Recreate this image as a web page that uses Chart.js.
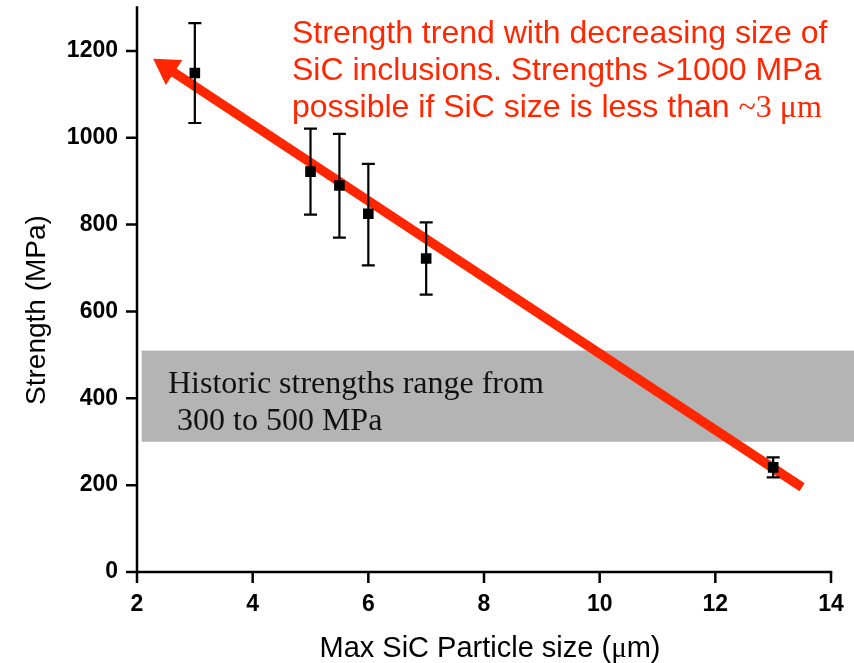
<!DOCTYPE html>
<html>
<head>
<meta charset="utf-8">
<script src="https://cdn.jsdelivr.net/npm/chart.js@4.4.1/dist/chart.umd.min.js"></script>
<style>
    html, body { margin: 0; padding: 0; background: #fff; }
    #myChart { display: block; }
</style>
</head>
<body>
<canvas id="myChart" width="854" height="663"></canvas>
<script>
'use strict'

// values
var particleSize = [3, 5, 5.5, 6, 7, 13];
var strength = [1149, 922, 890, 825, 722, 241];
var errLow = [1034, 823, 770, 706, 639, 218];
var errHigh = [1264, 1021, 1009, 940, 805, 264];

// red trend arrow: tail -> tip
var trendX = [13.5, 2.28];
var trendY = [195, 1182];

// grey band of historic strengths
var bandX = [2.08, 14.4];
var bandY = [300, 510];

var xTicks = [2, 4, 6, 8, 10, 12, 14];
var yTicks = [0, 200, 400, 600, 800, 1000, 1200];

var noteLines = [
    "Strength trend with decreasing size of",
    "SiC inclusions. Strengths >1000 MPa",
    "possible if SiC size is less than "
];
var noteTail = "~3 \u03bcm";
var bandLines = ["Historic strengths range from", " 300 to 500 MPa"];

(function () {

    var RED = "rgb(255,38,0)";
    var SANS = "'Liberation Sans', Arial, sans-serif";
    var SERIF = "'Liberation Serif', 'Times New Roman', serif";

    var points = particleSize.map(function (v, i) {
        return { x: v, y: strength[i] };
    });

    var decor = {
        id: 'decor',
        beforeDatasetsDraw: function (chart) {
            var ctx = chart.ctx;
            var sx = chart.scales.x;
            var sy = chart.scales.y;
            ctx.save();

            // band
            var bx0 = sx.getPixelForValue(bandX[0]);
            var bx1 = sx.getPixelForValue(bandX[1]);
            var by0 = sy.getPixelForValue(bandY[1]);
            var by1 = sy.getPixelForValue(bandY[0]);
            ctx.fillStyle = "#b4b4b4";
            ctx.fillRect(bx0, by0, bx1 - bx0, by1 - by0);

            ctx.fillStyle = "#111";
            ctx.font = "32px " + SERIF;
            ctx.textBaseline = "alphabetic";
            ctx.textAlign = "left";
            ctx.fillText(bandLines[0], 168, 393);
            ctx.fillText(bandLines[1], 169, 430);

            // arrow
            var tx = sx.getPixelForValue(trendX[0]);
            var ty = sy.getPixelForValue(trendY[0]);
            var px = sx.getPixelForValue(trendX[1]);
            var py = sy.getPixelForValue(trendY[1]);
            var len = Math.sqrt((px - tx) * (px - tx) + (py - ty) * (py - ty));
            var ux = (px - tx) / len;
            var uy = (py - ty) / len;
            var headLen = 25;
            var headHalf = 15;
            var bx = px - ux * headLen;
            var by = py - uy * headLen;
            ctx.strokeStyle = RED;
            ctx.lineWidth = 9.5;
            ctx.lineCap = "butt";
            ctx.beginPath();
            ctx.moveTo(tx, ty);
            ctx.lineTo(bx + ux * 3, by + uy * 3);
            ctx.stroke();
            ctx.fillStyle = RED;
            ctx.beginPath();
            ctx.moveTo(px, py);
            ctx.lineTo(bx - uy * headHalf, by + ux * headHalf);
            ctx.lineTo(bx + uy * headHalf, by - ux * headHalf);
            ctx.closePath();
            ctx.fill();

            // error bars
            ctx.strokeStyle = "#000";
            ctx.lineWidth = 2.2;
            for (var i = 0; i < particleSize.length; i++) {
                var ex = sx.getPixelForValue(particleSize[i]);
                var eLo = sy.getPixelForValue(errLow[i]);
                var eHi = sy.getPixelForValue(errHigh[i]);
                ctx.beginPath();
                ctx.moveTo(ex, eLo);
                ctx.lineTo(ex, eHi);
                ctx.moveTo(ex - 6.5, eLo);
                ctx.lineTo(ex + 6.5, eLo);
                ctx.moveTo(ex - 6.5, eHi);
                ctx.lineTo(ex + 6.5, eHi);
                ctx.stroke();
            }
            ctx.restore();
        },
        afterDraw: function (chart) {
            var ctx = chart.ctx;
            var sx = chart.scales.x;
            var sy = chart.scales.y;
            var area = chart.chartArea;
            ctx.save();

            // axes
            ctx.strokeStyle = "#000";
            ctx.lineWidth = 2.5;
            ctx.lineCap = "square";
            ctx.beginPath();
            ctx.moveTo(area.left, area.top);
            ctx.lineTo(area.left, area.bottom);
            ctx.lineTo(area.right, area.bottom);
            ctx.stroke();

            ctx.lineCap = "butt";
            ctx.lineWidth = 2.5;
            ctx.beginPath();
            sx.ticks.forEach(function (t) {
                var xp = sx.getPixelForValue(t.value);
                var l = xTicks.indexOf(t.value) >= 0 ? 11 : 6;
                ctx.moveTo(xp, area.bottom);
                ctx.lineTo(xp, area.bottom + l);
            });
            sy.ticks.forEach(function (t) {
                var yp = sy.getPixelForValue(t.value);
                var l = yTicks.indexOf(t.value) >= 0 ? 11 : 6;
                ctx.moveTo(area.left, yp);
                ctx.lineTo(area.left - l, yp);
            });
            ctx.stroke();

            // axis titles
            ctx.fillStyle = "#000";
            ctx.textBaseline = "alphabetic";
            ctx.textAlign = "left";
            var partA = "Max SiC Particle size (";
            var partB = "\u03bc";
            var partC = "m)";
            ctx.font = "29px " + SANS;
            var wA = ctx.measureText(partA).width;
            var wC = ctx.measureText(partC).width;
            ctx.font = "29px " + SERIF;
            var wB = ctx.measureText(partB).width;
            var x0 = 490 - (wA + wB + wC) / 2;
            ctx.font = "29px " + SANS;
            ctx.fillText(partA, x0, 657);
            ctx.font = "29px " + SERIF;
            ctx.fillText(partB, x0 + wA, 657);
            ctx.font = "29px " + SANS;
            ctx.fillText(partC, x0 + wA + wB, 657);

            ctx.save();
            ctx.translate(45, 310);
            ctx.rotate(-Math.PI / 2);
            ctx.textAlign = "center";
            ctx.font = "28px " + SANS;
            ctx.fillText("Strength (MPa)", 0, 0);
            ctx.restore();

            // red note
            ctx.fillStyle = RED;
            ctx.font = "32px " + SANS;
            ctx.fillText(noteLines[0], 292, 43);
            ctx.fillText(noteLines[1], 292, 80);
            ctx.fillText(noteLines[2], 292, 117);
            var w3 = ctx.measureText(noteLines[2]).width;
            ctx.font = "32px " + SERIF;
            ctx.fillText(noteTail, 292 + w3, 117);

            ctx.restore();
        }
    };

    var ctx = document.getElementById('myChart').getContext('2d');
    var chart = new Chart(ctx, {
        type: 'scatter',
        data: {
            datasets: [{
                data: points,
                pointStyle: 'rect',
                pointRadius: 7.5,
                backgroundColor: '#000',
                borderColor: '#000',
                borderWidth: 0
            }]
        },
        options: {
            responsive: false,
            animation: false,
            events: [],
            layout: { padding: { top: 6.5, right: 23, left: 0, bottom: 0 } },
            plugins: {
                legend: { display: false },
                tooltip: { enabled: false }
            },
            scales: {
                x: {
                    type: 'linear',
                    min: 2,
                    max: 14,
                    grid: { display: false, drawTicks: false },
                    border: { display: false },
                    ticks: {
                        stepSize: 1,
                        autoSkip: false,
                        maxRotation: 0,
                        padding: 19,
                        color: '#000',
                        font: { family: SANS, size: 23, weight: 'bold' },
                        callback: function (v) {
                            return xTicks.indexOf(v) >= 0 ? String(v) : null;
                        }
                    },
                    afterFit: function (s) {
                        s.height = 91;
                        s.paddingLeft = 0;
                        s.paddingRight = 0;
                    }
                },
                y: {
                    type: 'linear',
                    min: 0,
                    max: 1300,
                    grid: { display: false, drawTicks: false },
                    border: { display: false },
                    ticks: {
                        stepSize: 100,
                        autoSkip: false,
                        padding: 19,
                        color: '#000',
                        font: { family: SANS, size: 23, weight: 'bold' },
                        callback: function (v) {
                            return yTicks.indexOf(v) >= 0 ? String(v) : null;
                        }
                    },
                    afterFit: function (s) {
                        s.width = 137;
                        s.paddingTop = 0;
                        s.paddingBottom = 0;
                    }
                }
            }
        },
        plugins: [decor]
    });
})();
</script>
</body>
</html>
